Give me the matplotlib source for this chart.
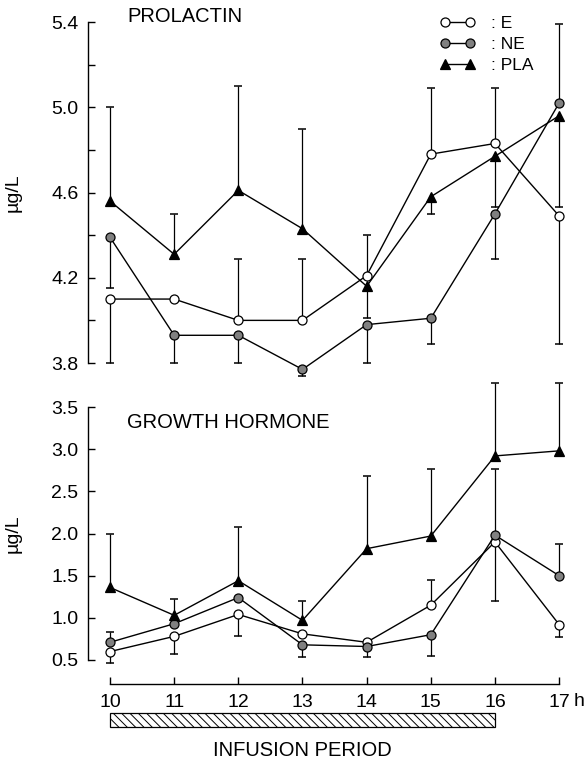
import numpy as np
import matplotlib
matplotlib.use("Agg")
import matplotlib.pyplot as plt
import matplotlib.transforms as mtransforms
from matplotlib.lines import Line2D
from matplotlib.patches import Rectangle

plt.rcParams["font.family"] = ["Liberation Sans", "DejaVu Sans"]
plt.rcParams["hatch.linewidth"] = 0.7

HOURS = [10, 11, 12, 13, 14, 15, 16, 17]
HOUR_LABELS = ["10", "11", "12", "13", "14", "15", "16", "17"]
INFUSION = (10, 16)
GROUPS = [": E", ": NE", ": PLA"]

# prolactin, ug/L (mean, error up, error down)
PRL_E = [4.10, 4.10, 4.00, 4.00, 4.21, 4.78, 4.83, 4.49]
PRL_E_UP = [0, 0, 0.29, 0.29, 0.19, 0.31, 0.26, 0]
PRL_E_DN = [0.30, 0, 0, 0, 0, 0, 0, 0.60]
PRL_NE = [4.39, 3.93, 3.93, 3.77, 3.98, 4.01, 4.50, 5.02]
PRL_NE_UP = [0, 0, 0, 0, 0, 0, 0, 0.37]
PRL_NE_DN = [0.24, 0.13, 0.13, 0.03, 0.18, 0.12, 0.21, 0]
PRL_PLA = [4.56, 4.31, 4.61, 4.43, 4.16, 4.58, 4.77, 4.96]
PRL_PLA_UP = [0.44, 0.19, 0.49, 0.47, 0, 0, 0, 0]
PRL_PLA_DN = [0, 0, 0, 0, 0.15, 0.08, 0.24, 0.43]

# growth hormone, ug/L
GH_E = [0.60, 0.78, 1.04, 0.81, 0.71, 1.15, 1.90, 0.92]
GH_E_UP = [0, 0, 0, 0, 0, 0.30, 0, 0]
GH_E_DN = [0.14, 0.21, 0.25, 0, 0, 0, 0.70, 0.15]
GH_NE = [0.71, 0.93, 1.24, 0.68, 0.66, 0.80, 1.98, 1.50]
GH_NE_UP = [0.12, 0, 0, 0, 0, 0, 0.78, 0.38]
GH_NE_DN = [0, 0, 0, 0.14, 0.12, 0.25, 0, 0]
GH_PLA = [1.36, 1.03, 1.44, 0.97, 1.82, 1.97, 2.92, 2.98]
GH_PLA_UP = [0.64, 0.19, 0.64, 0.23, 0.86, 0.80, 0.86, 0.80]
GH_PLA_DN = [0, 0, 0, 0, 0, 0, 0, 0]

STYLE_E = dict(marker="o", mfc="white", mec="black", ms=6.5, mew=0.9)
STYLE_NE = dict(marker="o", mfc="#808080", mec="black", ms=6.5, mew=0.9)
STYLE_PLA = dict(marker="^", mfc="black", mec="black", ms=7, mew=0.9)

W, H = 588, 763
FS = 14


def series(ax, y, up, dn, style):
    x = np.asarray(HOURS, float)
    y = np.asarray(y, float)
    up = np.asarray(up, float)
    dn = np.asarray(dn, float)
    m = (up + dn) > 0
    ax.vlines(x[m], (y - dn)[m], (y + up)[m], color="black", lw=0.9, zorder=2, clip_on=False)
    mu = up > 0
    md = dn > 0
    ax.plot(x[mu], (y + up)[mu], ls="none", marker="_", ms=6, mew=1.1, color="black", zorder=2, clip_on=False)
    ax.plot(x[md], (y - dn)[md], ls="none", marker="_", ms=6, mew=1.1, color="black", zorder=2, clip_on=False)
    ax.plot(x, y, color="black", lw=1.0, zorder=3, clip_on=False, **style)


def style_axis(ax):
    for s in ["top", "right", "bottom"]:
        ax.spines[s].set_visible(False)
    ax.spines["left"].set_linewidth(1.0)
    ax.tick_params(axis="y", direction="in", length=5, width=1, labelsize=FS, pad=7)
    ax.set_xlim(9.657, 17.45)


fig = plt.figure(figsize=(W / 100, H / 100), dpi=100)

# top: prolactin
ax1 = fig.add_axes([88 / W, 1 - 363 / H, 500 / W, (363 - 22) / H])
style_axis(ax1)
ax1.set_ylim(3.8, 5.4)
ax1.set_yticks([3.8, 4.2, 4.6, 5.0, 5.4])
ax1.set_yticklabels(["3.8", "4.2", "4.6", "5.0", "5.4"])
ax1.set_yticks([4.0, 4.4, 4.8, 5.2], minor=True)
ax1.tick_params(axis="y", which="minor", direction="in", length=5, width=1)
ax1.set_xticks([])
series(ax1, PRL_E, PRL_E_UP, PRL_E_DN, STYLE_E)
series(ax1, PRL_NE, PRL_NE_UP, PRL_NE_DN, STYLE_NE)
series(ax1, PRL_PLA, PRL_PLA_UP, PRL_PLA_DN, STYLE_PLA)
ax1.text(10.27, 5.425, "PROLACTIN", fontsize=14.5, ha="left", va="center", clip_on=False)
ax1.set_ylabel("µg/L", fontsize=14)
ax1.yaxis.set_label_coords(-0.132, 0.5)

handles = [
    Line2D([], [], color="black", lw=1.0, **STYLE_E),
    Line2D([], [], color="black", lw=1.0, **STYLE_NE),
    Line2D([], [], color="black", lw=1.0, **STYLE_PLA),
]
ax1.legend(handles, GROUPS, loc="upper left", bbox_to_anchor=(440 / W, 1 - 16 / H),
           bbox_transform=fig.transFigure, frameon=False, numpoints=2, fontsize=12.5,
           handlelength=2.0, handletextpad=0.95, labelspacing=0.33,
           borderaxespad=0, borderpad=0)

# bottom: growth hormone
ax2 = fig.add_axes([88 / W, 1 - 660 / H, 500 / W, (660 - 407) / H])
style_axis(ax2)
ax2.set_ylim(0.5, 3.5)
ax2.set_yticks([0.5, 1.0, 1.5, 2.0, 2.5, 3.0, 3.5])
ax2.set_yticklabels(["0.5", "1.0", "1.5", "2.0", "2.5", "3.0", "3.5"])
ax2.spines["bottom"].set_visible(True)
ax2.spines["bottom"].set_position(("outward", 17.3))
ax2.spines["bottom"].set_bounds(HOURS[0], HOURS[-1])
ax2.spines["bottom"].set_linewidth(1.0)
ax2.set_xticks(HOURS)
ax2.set_xticklabels(HOUR_LABELS)
ax2.tick_params(axis="x", direction="in", length=5, width=1, labelsize=FS, pad=7)
series(ax2, GH_E, GH_E_UP, GH_E_DN, STYLE_E)
series(ax2, GH_NE, GH_NE_UP, GH_NE_DN, STYLE_NE)
series(ax2, GH_PLA, GH_PLA_UP, GH_PLA_DN, STYLE_PLA)
ax2.text(10.27, 3.32, "GROWTH HORMONE", fontsize=14.5, ha="left", va="center")
ax2.set_ylabel("µg/L", fontsize=14)
ax2.yaxis.set_label_coords(-0.132, 0.5)

blend = mtransforms.blended_transform_factory(ax2.transData, ax2.transAxes)
ax2.text(17.22, -0.166, "h", transform=blend, fontsize=FS, ha="left", va="center")
bar = Rectangle((INFUSION[0], -0.265), INFUSION[1] - INFUSION[0], 0.056, transform=blend,
                facecolor="white", edgecolor="black", lw=0.9, hatch="\\\\\\\\", clip_on=False)
ax2.add_patch(bar)
ax2.text(sum(INFUSION) / 2, -0.356, "INFUSION PERIOD", transform=blend, fontsize=14.5,
         ha="center", va="center")

fig.savefig("out.png", dpi=100)
